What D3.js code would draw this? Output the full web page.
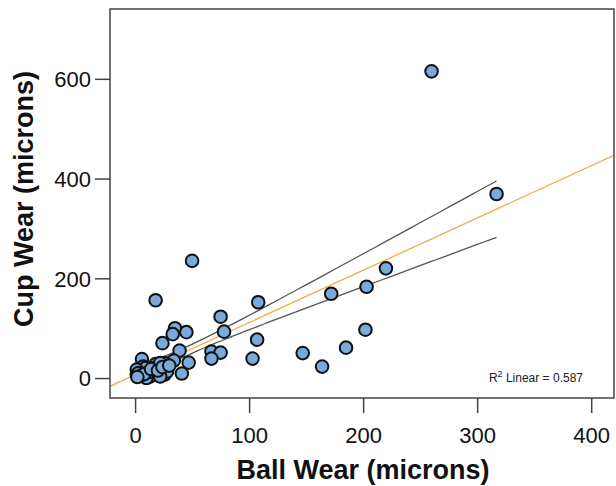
<!DOCTYPE html>
<html>
<head>
<meta charset="utf-8">
<script src="https://cdn.jsdelivr.net/npm/d3@7"></script>
<style>
  body { margin: 0; background: #fff; }
  text { font-family: "Liberation Sans", Arial, sans-serif; }
</style>
</head>
<body>
<div id="chart"></div>
<script>
// ball wear (x) and cup wear (y), microns
const ballWear = [260, 317, 220, 203, 172, 202, 185, 147, 164,
  108, 75, 78, 107, 67, 75, 67, 103,
  50, 18,
  35, 33, 45, 24, 39, 47, 6, 41, 34, 26, 18, 7,
  26, 19, 13, 4, 9, 1.5, 1.5, 16, 22, 28, 10, 22,
  3, 5, 12, 8, 14, 20, 24, 30, 2];
const cupWear = [615, 369, 220, 183, 169, 97, 61, 50, 23,
  152, 123, 93, 77, 53, 51, 39, 39,
  235, 156,
  100, 88, 92, 70, 55, 31, 38, 9, 35, 30, 28, 23,
  7, 7, 3, 13, 20, 17, 7, 20, 30, 13, 0, 3,
  10, 5, 12, 8, 18, 15, 22, 25, 2];
const xTicks = [0, 100, 200, 300, 400];
const yTicks = [0, 200, 400, 600];
const r2Label = "0.587";

// fit line and 95% mean band
const fitIntercept = 6.5;
const fitSlope = 1.048;
const bandCentre = 45;     // x where the band is narrowest
const bandMinHalf = 9;     // half width there
const bandEndHalf = 56.5;  // half width at the largest x

const WIDTH = 616, HEIGHT = 486;
const PAD = { left: 110, right: 2, top: 9, bottom: 88 };

let svg = d3.select("#chart").append("svg")
  .attr("width", WIDTH)
  .attr("height", HEIGHT);

let xScale = d3.scaleLinear().domain([-22, 420]).range([PAD.left, WIDTH - PAD.right]);
let yScale = d3.scaleLinear().domain([-40, 740]).range([HEIGHT - PAD.bottom, PAD.top]);

let data = ballWear.map((x, i) => ({ x: x, y: cupWear[i] }));

let xMin = d3.min(data, d => d.x), xMax = d3.max(data, d => d.x);
let bandB = Math.sqrt(bandEndHalf ** 2 - bandMinHalf ** 2) / (xMax - bandCentre);
let half = x => Math.sqrt(bandMinHalf ** 2 + (bandB * (x - bandCentre)) ** 2);
let fit = x => fitIntercept + fitSlope * x;
let bandX = d3.range(0, 61).map(i => xMin + (xMax - xMin) * i / 60);

svg.append("clipPath").attr("id", "plotclip")
  .append("rect")
  .attr("x", PAD.left).attr("y", PAD.top)
  .attr("width", WIDTH - PAD.right - PAD.left)
  .attr("height", HEIGHT - PAD.bottom - PAD.top);

let plot = svg.append("g").attr("clip-path", "url(#plotclip)");

let line = d3.line().x(d => xScale(d[0])).y(d => yScale(d[1]));

plot.append("path")
  .attr("d", line(bandX.map(x => [x, fit(x) + half(x)])))
  .attr("fill", "none").attr("stroke", "#555").attr("stroke-width", 1.3);
plot.append("path")
  .attr("d", line(bandX.map(x => [x, fit(x) - half(x)])))
  .attr("fill", "none").attr("stroke", "#555").attr("stroke-width", 1.3);
plot.append("path")
  .attr("d", line(xScale.domain().map(x => [x, fit(x)])))
  .attr("fill", "none").attr("stroke", "#f5a947").attr("stroke-width", 1.3);

plot.selectAll("circle")
  .data(data)
  .join("circle")
  .attr("cx", d => xScale(d.x))
  .attr("cy", d => yScale(d.y))
  .attr("r", 6.3)
  .attr("fill", "#78aadc")
  .attr("stroke", "#111")
  .attr("stroke-width", 2);

// frame
svg.append("rect")
  .attr("x", PAD.left).attr("y", PAD.top)
  .attr("width", WIDTH - PAD.right - PAD.left)
  .attr("height", HEIGHT - PAD.bottom - PAD.top)
  .attr("fill", "none").attr("stroke", "#444").attr("stroke-width", 1.5);

let xAxis = d3.axisBottom(xScale).tickValues(xTicks).tickSize(15).tickSizeOuter(0);
let yAxis = d3.axisLeft(yScale).tickValues(yTicks).tickSize(15).tickSizeOuter(0);

let gx = svg.append("g")
  .attr("transform", "translate(0," + (HEIGHT - PAD.bottom) + ")")
  .call(xAxis);
let gy = svg.append("g")
  .attr("transform", "translate(" + PAD.left + ",0)")
  .call(yAxis);

[gx, gy].forEach(g => {
  g.select(".domain").remove();
  g.selectAll(".tick line").attr("stroke", "#444").attr("stroke-width", 1.5);
  g.selectAll(".tick text")
    .attr("fill", "#111")
    .style("font-size", "22px")
    .style("font-family", "'Liberation Sans', Arial, sans-serif");
});
gx.selectAll(".tick text").attr("dy", "0.71em").attr("y", 29);
gy.selectAll(".tick text").attr("x", -19).attr("dy", "0.35em");

svg.append("text")
  .attr("x", 363).attr("y", 479)
  .attr("text-anchor", "middle")
  .style("font-size", "27px").style("font-weight", "bold")
  .attr("fill", "#111")
  .text("Ball Wear (microns)");

svg.append("text")
  .attr("transform", "translate(33," + 199 + ")rotate(-90)")
  .attr("text-anchor", "middle")
  .style("font-size", "27px").style("font-weight", "bold")
  .attr("fill", "#111")
  .text("Cup Wear (microns)");

let r2 = svg.append("text")
  .attr("x", 583).attr("y", 382)
  .attr("text-anchor", "end")
  .style("font-size", "12px")
  .attr("fill", "#222");
r2.append("tspan").text("R");
r2.append("tspan").attr("dy", -5).style("font-size", "9px").text("2");
r2.append("tspan").attr("dy", 5).text(" Linear = " + r2Label);
</script>
</body>
</html>
